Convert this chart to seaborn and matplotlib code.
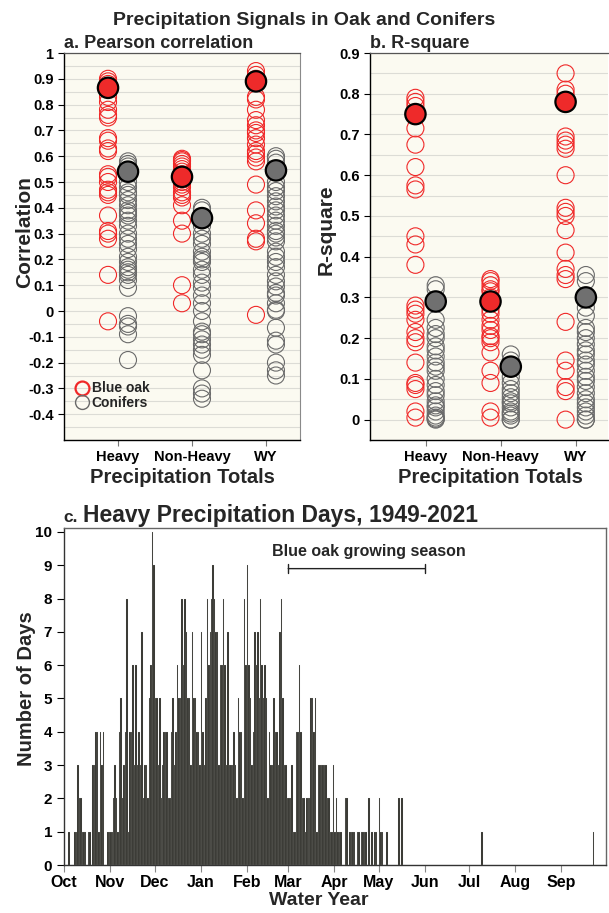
import numpy as np
import pandas as pd
import matplotlib
matplotlib.use("Agg")
import matplotlib.pyplot as plt
import seaborn as sns
from matplotlib.lines import Line2D
from matplotlib.ticker import FixedLocator, MultipleLocator, FuncFormatter

# ---------------- data ----------------
categories = ["Heavy", "Non-Heavy", "WY"]

# Panel a: Pearson correlation
corr_oak_heavy = [0.90, 0.89, 0.88, 0.87, 0.83, 0.81, 0.78, 0.76, 0.75, 0.67, 0.66, 0.63, 0.62,
                  0.53, 0.52, 0.50, 0.47, 0.46, 0.45, 0.37, 0.31, 0.30, 0.28, 0.14, -0.04]
corr_oak_nonheavy = [0.59, 0.585, 0.58, 0.57, 0.56, 0.55, 0.54, 0.53, 0.50, 0.49, 0.48, 0.46,
                     0.45, 0.44, 0.41, 0.35, 0.30, 0.10, 0.03]
corr_oak_wy = [0.93, 0.915, 0.90, 0.83, 0.82, 0.78, 0.74, 0.72, 0.70, 0.69, 0.67, 0.645, 0.62,
               0.61, 0.595, 0.58, 0.49, 0.39, 0.34, 0.28, 0.27, -0.015]
corr_con_heavy = [0.58, 0.57, 0.56, 0.50, 0.48, 0.46, 0.45, 0.43, 0.41, 0.39, 0.38, 0.37, 0.35,
                  0.33, 0.30, 0.28, 0.26, 0.24, 0.21, 0.19, 0.17, 0.16, 0.15, 0.14, 0.12, 0.09,
                  -0.02, -0.05, -0.06, -0.09, -0.19]
corr_con_nonheavy = [0.40, 0.39, 0.33, 0.30, 0.28, 0.26, 0.23, 0.21, 0.20, 0.19, 0.16, 0.14,
                     0.11, 0.09, 0.06, 0.03, 0.0, -0.04, -0.08, -0.09, -0.11, -0.13, -0.15,
                     -0.17, -0.23, -0.30, -0.32, -0.34]
corr_con_wy = [0.60, 0.59, 0.575, 0.50, 0.48, 0.465, 0.445, 0.425, 0.405, 0.39, 0.37, 0.35,
               0.33, 0.31, 0.30, 0.285, 0.27, 0.23, 0.21, 0.19, 0.17, 0.14, 0.115, 0.095, 0.07,
               0.06, 0.03, 0.005, 0.0, -0.065, -0.115, -0.13, -0.20, -0.23, -0.25]
corr_oak_mean = [0.865, 0.52, 0.89]
corr_con_mean = [0.54, 0.36, 0.545]

# Panel b: R-square
rsq_oak_heavy = [0.79, 0.78, 0.77, 0.715, 0.675, 0.62, 0.575, 0.565, 0.45, 0.43, 0.38, 0.28,
                 0.27, 0.26, 0.245, 0.215, 0.20, 0.19, 0.14, 0.09, 0.085, 0.075, 0.02, 0.005]
rsq_oak_nonheavy = [0.345, 0.34, 0.33, 0.32, 0.315, 0.30, 0.27, 0.26, 0.245, 0.23, 0.22, 0.205,
                    0.20, 0.19, 0.165, 0.12, 0.09, 0.02, 0.005]
rsq_oak_wy = [0.85, 0.81, 0.80, 0.695, 0.685, 0.675, 0.665, 0.60, 0.52, 0.51, 0.50, 0.465,
              0.41, 0.37, 0.355, 0.345, 0.24, 0.145, 0.12, 0.08, 0.07, 0.0]
rsq_con_heavy = [0.33, 0.32, 0.245, 0.225, 0.21, 0.20, 0.18, 0.17, 0.155, 0.14, 0.13, 0.12,
                 0.10, 0.085, 0.07, 0.06, 0.045, 0.035, 0.03, 0.02, 0.01, 0.005, 0.002, 0.0]
rsq_con_nonheavy = [0.16, 0.145, 0.105, 0.09, 0.075, 0.065, 0.055, 0.045, 0.04, 0.03, 0.02,
                    0.015, 0.01, 0.0, 0.0]
rsq_con_wy = [0.355, 0.34, 0.275, 0.255, 0.225, 0.215, 0.20, 0.185, 0.17, 0.16, 0.145, 0.135,
              0.12, 0.105, 0.095, 0.08, 0.065, 0.05, 0.04, 0.03, 0.02, 0.01, 0.0, 0.0]
rsq_oak_mean = [0.75, 0.29, 0.78]
rsq_con_mean = [0.29, 0.13, 0.30]

# Panel c: number of heavy precipitation days per calendar day (water year Oct 1 - Sep 30)
month_labels = ["Oct", "Nov", "Dec", "Jan", "Feb", "Mar", "Apr", "May", "Jun", "Jul", "Aug", "Sep"]
oct_days = [0, 0, 0, 1, 0, 0, 0, 1, 1, 3, 2, 2, 1, 1, 1, 0, 1, 1, 0, 3, 3, 4, 4, 1, 4, 3, 4, 0, 0, 1, 1]
nov_days = [1, 1, 2, 3, 2, 1, 4, 5, 2, 3, 4, 8, 1, 4, 4, 6, 3, 6, 3, 4, 3, 7, 2, 3, 3, 2, 5, 6, 10, 9]
dec_days = [5, 5, 3, 5, 2, 3, 4, 4, 4, 2, 2, 4, 5, 3, 4, 6, 5, 5, 8, 6, 8, 7, 5, 5, 3, 7, 5, 5, 4, 4, 3]
jan_days = [7, 4, 3, 5, 8, 6, 7, 8, 9, 8, 7, 7, 3, 6, 6, 8, 6, 3, 7, 3, 3, 3, 4, 3, 2, 5, 4, 4, 2, 8, 6]
feb_days = [9, 6, 5, 3, 4, 7, 6, 7, 5, 8, 6, 5, 6, 5, 2, 4, 3, 3, 5, 4, 4, 3, 7, 8, 5, 3, 3, 2]
mar_days = [2, 2, 3, 1, 1, 4, 4, 6, 4, 2, 2, 1, 2, 2, 2, 5, 5, 4, 5, 1, 3, 3, 3, 3, 3, 3, 2, 2, 1, 1, 3]
apr_days = [1, 2, 1, 1, 1, 0, 0, 2, 2, 0, 1, 1, 1, 1, 0, 1, 1, 0, 1, 1, 1, 1, 0, 2, 0, 1, 0, 1, 1, 0]
may_days = [2, 1, 1, 0, 0, 1, 0, 0, 0, 0, 0, 0, 0, 2, 0, 2, 0, 0, 0, 0, 0, 0, 0, 0, 0, 0, 0, 0, 0, 0, 0]
jun_days = [0] * 30
jul_days = [0, 0, 0, 0, 0, 0, 0, 0, 1] + [0] * 22
aug_days = [0] * 31
sep_days = [0] * 21 + [1] + [0] * 8

growing_season = ("Mar", "Jun")

# ---------------- style ----------------
sns.set_theme(style="white")
plt.rcParams["font.family"] = ["Liberation Sans", "DejaVu Sans"]
plt.rcParams["font.weight"] = "bold"
plt.rcParams["axes.labelweight"] = "bold"
plt.rcParams["axes.unicode_minus"] = False

RED = "#f02828"
RED_FILL = "#ee2a2a"
GRAY = "#6a6a6a"
GRAY_FILL = "#707070"
CREAM = "#fbfaf1"
BAR = "#34342f"

W, H = 609, 913
fig = plt.figure(figsize=(W / 100, H / 100), dpi=100)


def fx(px):
    return px / W


def fy(py):
    return 1 - py / H


ax_a = fig.add_axes([fx(64), fy(440), fx(300 - 64), (440 - 53) / H])
ax_b = fig.add_axes([fx(370), fy(440), fx(608 - 370), (440 - 53) / H])
ax_c = fig.add_axes([fx(64), fy(865), fx(606 - 64), (865 - 528) / H])

cat_index = {c: i for i, c in enumerate(categories)}
group_offset = {"Blue oak": -0.135, "Conifers": 0.135}


def fmt(v, pos):
    s = f"{round(v, 1):g}"
    return "0" if s == "-0" else s


def draw_panel(ax, oak_sets, con_sets, oak_mean, con_mean, yticks, ylim, xlim):
    rows = []
    for ci, cat in enumerate(categories):
        rows += [(cat, "Blue oak", v) for v in oak_sets[ci]]
        rows += [(cat, "Conifers", v) for v in con_sets[ci]]
    df = pd.DataFrame(rows, columns=["category", "group", "value"])
    df["xpos"] = df["category"].map(cat_index) + df["group"].map(group_offset)
    for g, col in [("Blue oak", RED), ("Conifers", GRAY)]:
        sub = df[df["group"] == g]
        sns.scatterplot(data=sub, x="xpos", y="value", ax=ax, s=150, facecolor="none",
                        edgecolor=col, linewidth=0.8, legend=False, zorder=3)
    mdf = pd.DataFrame({"category": categories * 2,
                        "group": ["Blue oak"] * 3 + ["Conifers"] * 3,
                        "value": list(oak_mean) + list(con_mean)})
    mdf["xpos"] = mdf["category"].map(cat_index) + mdf["group"].map(group_offset)
    sns.scatterplot(data=mdf, x="xpos", y="value", hue="group",
                    palette={"Blue oak": RED_FILL, "Conifers": GRAY_FILL},
                    s=215, edgecolor="black", linewidth=1.6, legend=False, ax=ax, zorder=4)
    ax.set_facecolor(CREAM)
    ax.set_xlim(*xlim)
    ax.set_ylim(*ylim)
    ax.set_xticks(range(len(categories)))
    ax.set_xticklabels(categories, fontsize=11, fontweight="bold")
    ax.yaxis.set_major_locator(FixedLocator(yticks))
    ax.yaxis.set_major_formatter(FuncFormatter(fmt))
    ax.yaxis.set_minor_locator(MultipleLocator(0.05))
    ax.grid(axis="y", which="both", color="#dcdcd6", lw=0.8)
    ax.grid(axis="x", visible=False)
    ax.set_axisbelow(True)
    ax.tick_params(axis="both", which="major", direction="out", length=4, width=0.8,
                   colors="black", labelsize=10.5, bottom=True, left=True)
    ax.tick_params(axis="x", which="major", pad=3, colors="#777777", labelcolor="black")
    ax.tick_params(axis="y", which="minor", length=0)
    for lab in ax.get_yticklabels():
        lab.set_fontweight("bold")
    for side in ["left", "bottom"]:
        ax.spines[side].set_color("black")
        ax.spines[side].set_linewidth(1.0)
    ax.spines["top"].set_color("#555555")
    ax.spines["top"].set_linewidth(0.9)
    ax.spines["right"].set_color("#8a8a8a")
    ax.spines["right"].set_linewidth(0.8)
    ax.set_xlabel("Precipitation Totals", fontsize=14.5, fontweight="bold")


draw_panel(ax_a,
           [corr_oak_heavy, corr_oak_nonheavy, corr_oak_wy],
           [corr_con_heavy, corr_con_nonheavy, corr_con_wy],
           corr_oak_mean, corr_con_mean,
           np.round(np.arange(-0.4, 1.001, 0.1), 2), (-0.5, 1.0), (-0.73, 2.46))
ax_a.set_ylabel("Correlation", fontsize=15, fontweight="bold")
ax_a.yaxis.set_label_coords(-0.127, 0.537)
ax_a.xaxis.set_label_coords(0.5, -0.072)

draw_panel(ax_b,
           [rsq_oak_heavy, rsq_oak_nonheavy, rsq_oak_wy],
           [rsq_con_heavy, rsq_con_nonheavy, rsq_con_wy],
           rsq_oak_mean, rsq_con_mean,
           np.round(np.arange(0, 0.901, 0.1), 2), (-0.05, 0.9), (-0.74, 2.43))
ax_b.spines["right"].set_visible(False)
ax_b.set_ylabel("R-square", fontsize=15, fontweight="bold")
ax_b.yaxis.set_label_coords(-0.143, 0.543)
ax_b.xaxis.set_label_coords(0.508, -0.072)

handles = [Line2D([], [], ls="none", marker="o", markersize=10, markerfacecolor="none",
                  markeredgecolor=RED, markeredgewidth=1.6, label="Blue oak"),
           Line2D([], [], ls="none", marker="o", markersize=10, markerfacecolor="none",
                  markeredgecolor=GRAY, markeredgewidth=1.0, label="Conifers")]
ax_a.legend(handles=handles, loc="lower left", bbox_to_anchor=(-0.01, 0.045), frameon=False,
            handletextpad=0.05, labelspacing=0.05, handlelength=1.2,
            prop={"weight": "bold", "size": 10})

fig.text(0.5, fy(25), "Precipitation Signals in Oak and Conifers", ha="center",
         va="baseline", fontsize=14, fontweight="bold")
fig.text(fx(64), fy(48), "a. Pearson correlation", ha="left", va="baseline",
         fontsize=13, fontweight="bold")
fig.text(fx(370), fy(47.5), "b. R-square", ha="left", va="baseline",
         fontsize=13, fontweight="bold")

# ---------------- panel c ----------------
month_lists = [oct_days, nov_days, dec_days, jan_days, feb_days, mar_days,
               apr_days, may_days, jun_days, jul_days, aug_days, sep_days]
heavy_days = np.concatenate(month_lists)
month_lengths = [len(m) for m in month_lists]
month_starts = np.concatenate([[0], np.cumsum(month_lengths)[:-1]])
day_pos = np.arange(len(heavy_days)) + 0.5

sns.barplot(x=day_pos, y=heavy_days, native_scale=True, width=1, color=BAR,
            edgecolor="#d0d0d0", linewidth=0.08, saturation=1, errorbar=None, ax=ax_c)
ax_c.set_xlim(0, len(heavy_days))
ax_c.set_ylim(0, 10.12)
ax_c.set_xticks(month_starts)
ax_c.set_xticklabels(month_labels, fontsize=11.5, fontweight="bold")
ax_c.set_yticks(range(0, 11))
ax_c.set_yticklabels([str(v) for v in range(0, 11)], fontsize=11, fontweight="bold")
ax_c.tick_params(axis="both", direction="out", length=5, width=0.8, colors="black",
                 bottom=True, left=True)
ax_c.tick_params(axis="x", colors="#888888", labelcolor="black", pad=2)
for side in ["left", "bottom"]:
    ax_c.spines[side].set_color("#333333")
    ax_c.spines[side].set_linewidth(1.0)
for side in ["top", "right"]:
    ax_c.spines[side].set_color("#666666")
    ax_c.spines[side].set_linewidth(1.0)
ax_c.grid(False)
ax_c.set_ylabel("Number of Days", fontsize=14.5, fontweight="bold")
ax_c.yaxis.set_label_coords(-0.052, 0.522)
ax_c.set_xlabel("Water Year", fontsize=14, fontweight="bold")
ax_c.xaxis.set_label_coords(0.47, -0.079)

gs_start = month_starts[month_labels.index(growing_season[0])]
gs_end = month_starts[month_labels.index(growing_season[1])]
ax_c.annotate("", xy=(gs_start, 8.9), xytext=(gs_end, 8.9),
              arrowprops=dict(arrowstyle="|-|, widthA=0.25, widthB=0.25", lw=1.0,
                              color="#222222", shrinkA=0, shrinkB=0))
ax_c.text((gs_start + gs_end) / 2 + 8, 9.4, "Blue oak growing season", ha="center",
          va="center", fontsize=11.5, fontweight="bold")

fig.text(fx(63), fy(522), "c.", ha="left", va="baseline", fontsize=12.5, fontweight="bold")
fig.text(fx(83), fy(522), "Heavy Precipitation Days, 1949-2021", ha="left", va="baseline",
         fontsize=16.5, fontweight="bold")

fig.savefig("out.png", dpi=100, facecolor="white")
